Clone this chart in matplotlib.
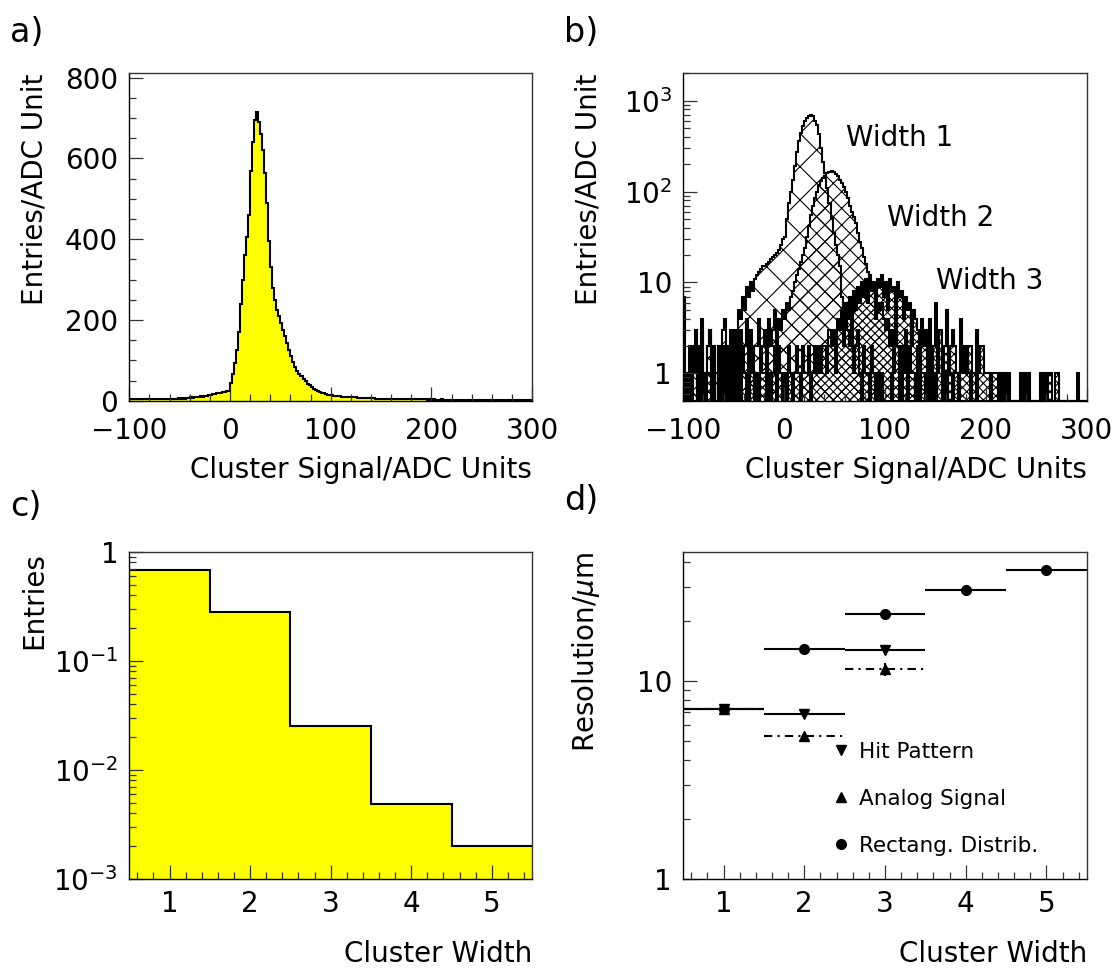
import matplotlib
matplotlib.use("Agg")
import matplotlib.pyplot as plt
import numpy as np
from matplotlib.lines import Line2D
from matplotlib.ticker import FixedLocator, FixedFormatter, MultipleLocator, LogLocator, NullFormatter

plt.rcParams["font.family"] = ["DejaVu Sans"]
plt.rcParams["mathtext.fontset"] = "dejavusans"
plt.rcParams["hatch.linewidth"] = 0.8

# ---- data -------------------------------------------------------------
# a) cluster signal, 2 ADC-unit bins from -100 to 300
SIGNAL_EDGES = np.arange(-100, 301, 2)
SIGNAL_ALL = [
    4, 3, 5, 3, 4, 3, 4, 5, 3, 4,
    4, 3, 5, 4, 3, 4, 5, 4, 4, 5,
    4, 5, 5, 4, 6, 5, 6, 5, 7, 6,
    8, 7, 9, 10, 9, 11, 10, 12, 11, 13,
    15, 17, 16, 18, 20, 19, 21, 22, 24, 23,
    45, 65, 93, 125, 170, 240, 300, 360, 405, 460,
    570, 640, 695, 715, 690, 660, 620, 565, 490, 395,
    330, 280, 250, 225, 210, 192, 176, 160, 142, 125,
    110, 95, 84, 74, 66, 60, 54, 48, 42, 38,
    34, 30, 27, 24, 22, 20, 18, 16, 15, 14,
    13, 12, 12, 11, 11, 10, 10, 9, 9, 9,
    8, 8, 8, 7, 7, 7, 7, 6, 6, 6,
    6, 6, 5, 5, 5, 5, 5, 5, 4, 5,
    4, 4, 4, 4, 4, 4, 3, 4, 4, 3,
    3, 3, 3, 3, 3, 3, 3, 3, 2, 3,
    2, 3, 2, 2, 2, 3, 2, 2, 2, 2,
    2, 2, 2, 1, 2, 2, 2, 1, 2, 1,
    1, 2, 1, 1, 1, 1, 1, 1, 1, 1,
    1, 1, 1, 1, 1, 1, 1, 1, 1, 1,
    1, 1, 0, 1, 1, 1, 1, 0, 1, 1,
]

# b) cluster signal split by cluster width (same binning)
SIGNAL_W1 = [
    7, 1, 1, 0, 2, 1, 3, 0, 1, 4,
    1, 0, 2, 3, 1, 0, 1, 2, 0, 3,
    4, 1, 2, 0, 1, 3, 2, 5, 4, 7,
    5, 9, 7, 10, 8, 11, 12, 13, 14, 15,
    15, 16, 17, 18, 19, 20, 21, 23, 26, 30,
    32, 50, 75, 100, 135, 190, 270, 360, 440, 520,
    590, 640, 680, 700, 680, 600, 540, 430, 300, 210,
    160, 110, 75, 50, 35, 26, 20, 15, 7, 5,
    4, 3, 2, 3, 1, 2, 3, 1, 0, 2,
    1, 1, 0, 2, 1, 0, 1, 0, 1, 0,
    0, 0, 0, 1, 0, 0, 0, 0, 1, 0,
    0, 0, 0, 0, 0, 1, 0, 0, 0, 0,
    0, 1, 0, 0, 0, 0, 0, 0, 0, 0,
    1, 0, 0, 0, 0, 0, 0, 0, 0, 0,
    0, 0, 1, 0, 0, 0, 0, 0, 0, 0,
] + [0] * 50
SIGNAL_W2 = [
    1, 0, 1, 2, 0, 1, 2, 0, 1, 3,
    0, 1, 2, 3, 1, 1, 0, 2, 1, 0,
    2, 1, 1, 3, 1, 0, 2, 1, 3, 1,
    2, 4, 1, 3, 1, 2, 2, 4, 1, 2,
    3, 1, 4, 2, 3, 5, 2, 4, 3, 5,
    4, 6, 5, 7, 8, 10, 12, 14, 17, 20,
    24, 32, 42, 55, 70, 86, 100, 118, 130, 142,
    150, 160, 166, 168, 163, 155, 148, 135, 125, 113,
    100, 85, 70, 60, 53, 45, 35, 28, 24, 19,
    16, 13, 11, 9, 8, 7, 6, 5, 6, 4,
    3, 4, 2, 3, 1, 3, 2, 0, 2, 1,
    3, 0, 2, 1, 1, 0, 2, 0, 1, 1,
    0, 1, 0, 2, 0, 1, 0, 0, 1, 0,
    1, 0, 0, 1, 0, 0, 1, 0, 0, 0,
    0, 0, 0, 0, 0, 1, 0, 0, 0, 0,
    0, 0, 1, 0, 0, 0, 0, 0, 0, 0,
] + [0] * 40
SIGNAL_W3 = [
    0, 1, 1, 0, 1, 0, 0, 1, 2, 0,
    1, 0, 1, 1, 0, 2, 0, 1, 0, 1,
    1, 0, 2, 1, 0, 1, 2, 0, 1, 0,
    0, 1, 0, 2, 1, 0, 1, 0, 1, 1,
    1, 0, 1, 0, 1, 2, 0, 2, 1, 0,
    1, 0, 2, 1, 0, 1, 2, 1, 0, 2,
    1, 1, 2, 0, 1, 2, 1, 2, 1, 2,
    2, 1, 3, 2, 3, 1, 4, 3, 5, 2,
    6, 4, 7, 3, 8, 5, 9, 6, 10, 7,
    11, 6, 12, 8, 10, 4, 11, 9, 12, 7,
    10, 5, 11, 8, 9, 3, 10, 7, 8, 4,
    7, 5, 6, 2, 5, 4, 3, 1, 4, 2,
    3, 1, 4, 2, 2, 6, 1, 3, 1, 2,
    5, 1, 2, 3, 2, 1, 1, 4, 1, 2,
    1, 2, 2, 1, 1, 3, 1, 2, 2, 1,
    1, 1, 0, 1, 1, 1, 0, 1, 0, 1,
    0, 1, 0, 0, 0, 0, 0, 1, 0, 1,
    0, 1, 0, 0, 0, 0, 0, 1, 0, 1,
    0, 1, 1, 0, 1, 1, 0, 0, 0, 0,
    0, 0, 0, 0, 0, 1, 0, 0, 0, 0,
]

# c) cluster width distribution (normalised)
WIDTHS = [1, 2, 3, 4, 5]
WIDTH_FRACTION = [0.68, 0.28, 0.025, 0.0049, 0.002]

# d) resolution vs cluster width
RES_RECT = [7.25, 14.5, 21.8, 28.9, 36.4]
RES_WIDTHS_3 = [1, 2, 3]
RES_HIT = [7.25, 6.78, 14.3]
RES_HIT_ERR = [0, 0, 0.7]
RES_ANALOG = [7.25, 5.25, 11.5]
RES_ANALOG_ERR = [0, 0, 0.9]

FS = 20
YELLOW = "#ffff00"


def style_axes(ax):
    for side in ("top", "right"):
        ax.spines[side].set_linewidth(1.0)
        ax.spines[side].set_color("#333333")
    for side in ("left", "bottom"):
        ax.spines[side].set_linewidth(1.0)
    ax.tick_params(which="both", direction="in", top=False, right=False,
                   labelsize=FS, pad=8, width=0.9, color="#333333")
    ax.tick_params(which="major", length=10)
    ax.tick_params(which="minor", length=5)


def log_labels(ax, ticks, labels):
    ax.yaxis.set_major_locator(FixedLocator(ticks))
    ax.yaxis.set_major_formatter(FixedFormatter(labels))
    ax.yaxis.set_minor_locator(LogLocator(base=10, subs=np.arange(2, 10)))
    ax.yaxis.set_minor_formatter(NullFormatter())


def axis_labels(ax, xlabel, ylabel, xl_y=-0.17, yl_x=-0.2):
    ax.set_xlabel(xlabel, fontsize=FS, loc="right")
    ax.xaxis.set_label_coords(1.0, xl_y)
    ax.set_ylabel(ylabel, fontsize=FS, loc="top")
    ax.yaxis.set_label_coords(yl_x, 1.0)


fig = plt.figure(figsize=(11.2, 9.69), dpi=100)
W, H = 1120, 969


def rect(x0, y_top, x1, y_bot):
    return [x0 / W, 1 - y_bot / H, (x1 - x0) / W, (y_bot - y_top) / H]


ax_a = fig.add_axes(rect(129.3, 73.3, 532.1, 400.7))
ax_b = fig.add_axes(rect(683.2, 73.3, 1086.8, 400.7))
ax_c = fig.add_axes(rect(129.3, 551.7, 532.1, 879.0))
ax_d = fig.add_axes(rect(683.2, 551.7, 1086.8, 879.0))

# ---- a) ---------------------------------------------------------------
ax = ax_a
ax.stairs(SIGNAL_ALL, SIGNAL_EDGES, fill=True, facecolor=YELLOW, edgecolor="none")
ax.stairs(SIGNAL_ALL, SIGNAL_EDGES, color="black", linewidth=1.5)
ax.set_xlim(-100, 300)
ax.set_ylim(0, 811)
ax.xaxis.set_major_locator(MultipleLocator(100))
ax.xaxis.set_minor_locator(MultipleLocator(20))
ax.yaxis.set_major_locator(MultipleLocator(200))
ax.yaxis.set_minor_locator(MultipleLocator(50))
style_axes(ax)
ax.tick_params(axis="x", pad=12)
axis_labels(ax, "Cluster Signal/ADC Units", "Entries/ADC Unit")

# ---- b) ---------------------------------------------------------------
ax = ax_b
ax.set_yscale("log")
for counts, hatch in ((SIGNAL_W1, "x"), (SIGNAL_W2, "xx"), (SIGNAL_W3, "xxxx")):
    vals = np.clip(np.asarray(counts, dtype=float), 0.5, None)
    ax.stairs(vals, SIGNAL_EDGES, baseline=0.5, fill=True, facecolor="none",
              edgecolor="black", hatch=hatch, linewidth=1.5)
ax.set_xlim(-100, 300)
ax.set_ylim(0.5, 2000)
ax.xaxis.set_major_locator(MultipleLocator(100))
ax.xaxis.set_minor_locator(MultipleLocator(20))
log_labels(ax, [1, 10, 100, 1000], ["1", "10", r"$10^2$", r"$10^3$"])
style_axes(ax)
ax.tick_params(axis="x", pad=12)
axis_labels(ax, "Cluster Signal/ADC Units", "Entries/ADC Unit")
ax.text(61, 390, "Width 1", fontsize=FS, va="center")
ax.text(102, 51, "Width 2", fontsize=FS, va="center")
ax.text(151, 10.3, "Width 3", fontsize=FS, va="center")

# ---- c) ---------------------------------------------------------------
ax = ax_c
ax.set_yscale("log")
width_edges = np.arange(len(WIDTHS) + 1) + 0.5
ax.stairs(WIDTH_FRACTION, width_edges, baseline=1e-3, fill=True,
          facecolor=YELLOW, edgecolor="none")
ax.stairs(WIDTH_FRACTION, width_edges, baseline=None, color="black", linewidth=1.5)
ax.set_xlim(0.5, 5.5)
ax.set_ylim(1e-3, 1)
ax.xaxis.set_major_locator(FixedLocator(WIDTHS))
ax.xaxis.set_minor_locator(MultipleLocator(0.2))
log_labels(ax, [1e-3, 1e-2, 1e-1, 1], [r"$10^{-3}$", r"$10^{-2}$", r"$10^{-1}$", "1"])
style_axes(ax)
axis_labels(ax, "Cluster Width", "Entries", xl_y=-0.185)

# ---- d) ---------------------------------------------------------------
ax = ax_d
ax.set_yscale("log")
ms = 7
ax.errorbar(WIDTHS, RES_RECT, xerr=0.5, fmt="o", color="black", ms=ms,
            elinewidth=1.5, capsize=0)
ax.errorbar(RES_WIDTHS_3, RES_HIT, xerr=0.5, yerr=RES_HIT_ERR, fmt="v",
            color="black", ms=ms, elinewidth=1.5, capsize=0)
_, _, bars = ax.errorbar(RES_WIDTHS_3, RES_ANALOG, xerr=0.5, yerr=RES_ANALOG_ERR,
                         fmt="^", color="black", ms=ms, elinewidth=1.5, capsize=0)
bars[0].set_linestyle((0, (4, 2.5, 1, 2.5)))
ax.set_xlim(0.5, 5.5)
ax.set_ylim(1, 45)
ax.xaxis.set_major_locator(FixedLocator(WIDTHS))
ax.xaxis.set_minor_locator(MultipleLocator(0.2))
log_labels(ax, [1, 10], ["1", "10"])
style_axes(ax)
axis_labels(ax, "Cluster Width", "Resolution/$\\mu$m", xl_y=-0.185)

handles = [
    Line2D([], [], ls="none", marker="v", color="black", ms=ms),
    Line2D([], [], ls="none", marker="^", color="black", ms=ms),
    Line2D([], [], ls="none", marker="o", color="black", ms=ms),
]
ax.legend(handles, ["Hit Pattern", "Analog Signal", "Rectang. Distrib."],
          loc="upper left", bbox_to_anchor=(0.37, 0.42), frameon=False,
          fontsize=15.5, handlelength=0.8, handletextpad=0.45,
          labelspacing=1.26, borderpad=0, borderaxespad=0)

# ---- panel letters ----------------------------------------------------
for (x, y), letter in zip([(10, 32), (564, 32), (10, 506), (564, 500)],
                          ["a)", "b)", "c)", "d)"]):
    fig.text(x / W, 1 - y / H, letter, fontsize=24, va="center", ha="left")

fig.savefig("out.png", dpi=100)
